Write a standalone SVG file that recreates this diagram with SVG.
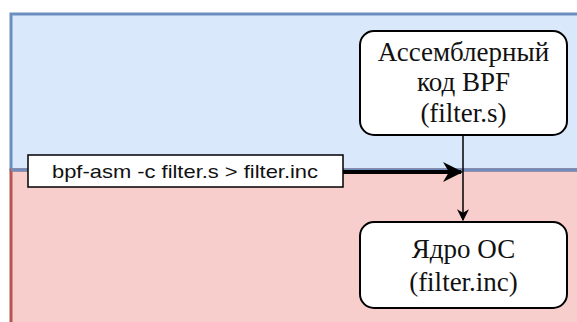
<svg xmlns="http://www.w3.org/2000/svg" width="577" height="322" viewBox="0 0 577 322">
<defs>
<style>
.node{fill:#fff;stroke:#000;stroke-width:2}
.t{font-family:"Liberation Serif","Times New Roman",serif;font-size:27px;fill:#111;text-anchor:middle}
.s{font-family:"Liberation Sans",Arial,sans-serif;font-size:19px;fill:#111;text-anchor:middle}
</style>
<marker id="ah" viewBox="0 0 10 10" refX="9" refY="5" markerWidth="5" markerHeight="5" orient="auto" markerUnits="strokeWidth"><path d="M0,0 L10,5 L0,10 L3,5 z" fill="#000"/></marker>
<marker id="ah2" viewBox="0 0 10 10" refX="9" refY="5" markerWidth="8" markerHeight="8" orient="auto" markerUnits="strokeWidth"><path d="M0,0 L10,5 L0,10 L3,5 z" fill="#000"/></marker>
</defs>
<g id="user-space">
<rect x="11" y="14" width="580" height="156" fill="#dae8fc" stroke="#6c8ebf" stroke-width="3"/>
</g>
<g id="kernel-space">
<rect x="11" y="170" width="580" height="170" fill="#f8cecc" stroke="#b85450" stroke-width="3"/>
<line x1="11" y1="170" x2="577" y2="170" stroke="#6c8ebf" stroke-width="3"/>
</g>
<g id="connectors" fill="none" stroke="#000">
<line x1="463" y1="135" x2="463" y2="220" stroke-width="1.5" marker-end="url(#ah2)"/>
<line x1="343" y1="172" x2="461" y2="172" stroke-width="4" marker-end="url(#ah)"/>
</g>
<g id="asm-code">
<rect class="node" x="360" y="31" width="207" height="104" rx="14"/>
<text class="t" x="463.5" y="61">Ассемблерный</text>
<text class="t" x="463.5" y="91">код BPF</text>
<text class="t" x="463.5" y="122">(filter.s)</text>
</g>
<g id="kernel">
<rect class="node" x="360" y="222" width="207" height="86" rx="14"/>
<text class="t" x="463.5" y="258">Ядро ОС</text>
<text class="t" x="463.5" y="291">(filter.inc)</text>
</g>
<g id="cmd">
<rect x="28" y="155" width="315" height="32" fill="#fff" stroke="#000" stroke-width="1.5"/>
<text class="s" x="185" y="177.5" textLength="266" lengthAdjust="spacingAndGlyphs">bpf-asm -c filter.s &gt; filter.inc</text>
</g>
</svg>
